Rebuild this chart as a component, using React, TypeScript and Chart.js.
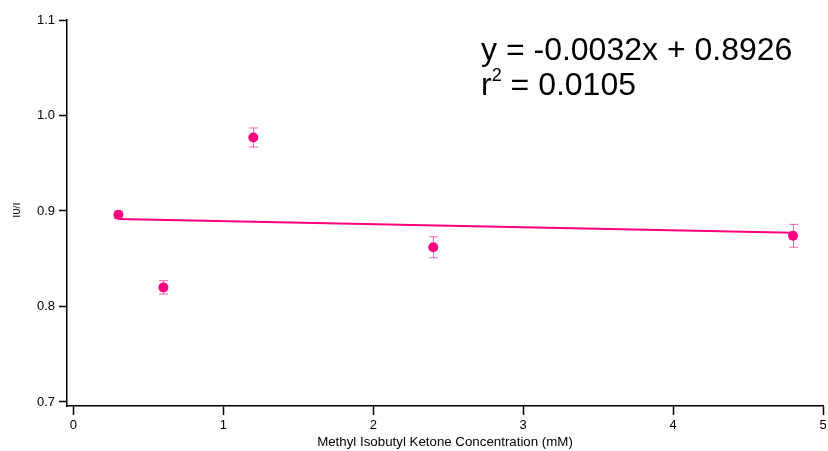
import React, { useEffect, useRef } from "react";
import { Chart, registerables } from "chart.js";

Chart.register(...registerables);

const concentrations = [0.3, 0.6, 1.2, 2.4, 4.8];
const ratioValues = [0.896, 0.82, 0.977, 0.862, 0.874];
const ratioErrors = [0.004, 0.007, 0.01, 0.011, 0.012];
const fitX = [0.3, 4.8];
const fitY = [0.8916, 0.8772];
const yTickValues = [0.7, 0.8, 0.9, 1.0, 1.1];
const xTickValues = [0, 1, 2, 3, 4, 5];
const equationLine = "y = -0.0032x + 0.8926";
const r2Value = " = 0.0105";
const xTitle = "Methyl Isobutyl Ketone Concentration (mM)";
const yTitle = "I0/I";

const PINK = "#ff0080";
const FONT = "'Liberation Sans', Arial, Helvetica, sans-serif";

const errorBarPlugin = {
  id: "errorBars",
  beforeDatasetsDraw(chart: any) {
    const { ctx, scales } = chart;
    const xs = scales.x;
    const ys = scales.y;
    ctx.save();
    ctx.strokeStyle = "rgba(255,0,128,0.6)";
    ctx.lineWidth = 1;
    concentrations.forEach((c, i) => {
      const px = Math.round(xs.getPixelForValue(c)) + 0.5;
      const top = ys.getPixelForValue(ratioValues[i] + ratioErrors[i]);
      const bot = ys.getPixelForValue(ratioValues[i] - ratioErrors[i]);
      ctx.beginPath();
      ctx.moveTo(px, top);
      ctx.lineTo(px, bot);
      ctx.moveTo(px - 4.5, top);
      ctx.lineTo(px + 4.5, top);
      ctx.moveTo(px - 4.5, bot);
      ctx.lineTo(px + 4.5, bot);
      ctx.stroke();
    });
    ctx.restore();
  },
};

const textPlugin = {
  id: "annotText",
  afterDraw(chart: any) {
    const { ctx } = chart;
    ctx.save();
    ctx.fillStyle = "#000";
    ctx.textBaseline = "alphabetic";
    ctx.textAlign = "left";
    ctx.font = `32px ${FONT}`;
    ctx.fillText(equationLine, 481, 60);
    ctx.fillText("r", 481, 95);
    const rW = ctx.measureText("r").width;
    ctx.font = `18px ${FONT}`;
    ctx.fillText("2", 481 + rW, 81);
    const sW = ctx.measureText("2").width;
    ctx.font = `32px ${FONT}`;
    ctx.fillText(r2Value, 481 + rW + sW, 95);

    // y-axis title, clipped at left like the reference
    ctx.beginPath();
    ctx.rect(13, 0, 40, chart.height);
    ctx.clip();
    ctx.translate(20, 210);
    ctx.rotate(-Math.PI / 2);
    ctx.textAlign = "center";
    ctx.font = `11px ${FONT}`;
    ctx.fillText(yTitle, 0, 0);
    ctx.restore();
  },
};

export default function App() {
  const ref = useRef<HTMLCanvasElement | null>(null);

  useEffect(() => {
    if (!ref.current) return;
    const chart = new Chart(ref.current, {
      type: "scatter",
      data: {
        datasets: [
          {
            type: "line",
            data: fitX.map((x, i) => ({ x, y: fitY[i] })),
            borderColor: PINK,
            borderWidth: 2,
            pointRadius: 0,
            fill: false,
          } as any,
          {
            type: "scatter",
            data: concentrations.map((x, i) => ({ x, y: ratioValues[i] })),
            backgroundColor: PINK,
            borderWidth: 0,
            pointRadius: 5,
          },
        ],
      },
      options: {
        responsive: false,
        animation: false,
        events: [],
        layout: { padding: { top: 20, right: 0, left: 0, bottom: 0 } },
        plugins: {
          legend: { display: false },
          tooltip: { enabled: false },
        },
        scales: {
          x: {
            type: "linear",
            min: -0.043,
            max: 5,
            afterBuildTicks: (s: any) => {
              s.ticks = xTickValues.map((v) => ({ value: v }));
            },
            afterFit: (s: any) => {
              s.height = 45;
              s.paddingRight = 3;
            },
            ticks: {
              color: "#000",
              font: { family: FONT, size: 13 },
              padding: 3,
              maxRotation: 0,
              callback: (v: any) => String(v),
            },
            grid: {
              drawOnChartArea: false,
              drawTicks: true,
              tickLength: 9,
              tickWidth: 1.5,
              tickColor: "#000",
            },
            border: { display: true, color: "#000", width: 1.5 },
            title: {
              display: true,
              text: xTitle,
              color: "#000",
              font: { family: FONT, size: 13.3 },
              padding: { top: 0, bottom: 1 },
            },
          },
          y: {
            type: "linear",
            min: 0.6958,
            max: 1.1,
            afterBuildTicks: (s: any) => {
              s.ticks = yTickValues.map((v) => ({ value: v }));
            },
            afterFit: (s: any) => {
              s.width = 67;
            },
            ticks: {
              color: "#000",
              font: { family: FONT, size: 13 },
              padding: 4,
              callback: (v: any) => Number(v).toFixed(1),
            },
            grid: {
              drawOnChartArea: false,
              drawTicks: true,
              tickLength: 8,
              tickWidth: 1.5,
              tickColor: "#000",
            },
            border: { display: true, color: "#000", width: 1.5 },
          },
        },
      },
      plugins: [errorBarPlugin, textPlugin],
    });
    return () => chart.destroy();
  }, []);

  return (
    <div style={{ position: "absolute", left: 0, top: 0, width: 828, height: 451, background: "#fff" }}>
      <canvas ref={ref} width={828} height={451} style={{ display: "block" }} />
    </div>
  );
}
